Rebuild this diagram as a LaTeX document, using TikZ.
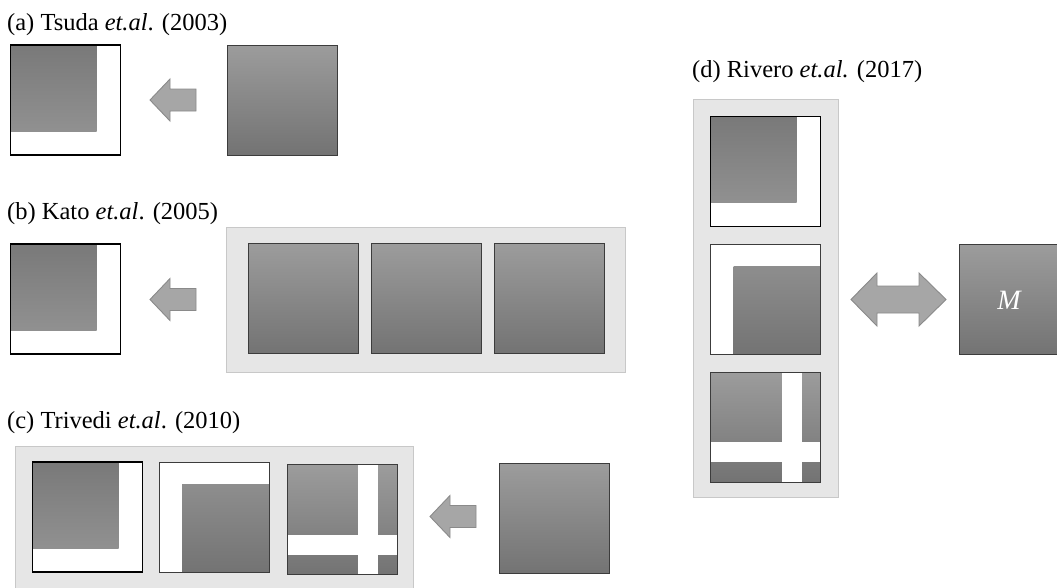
\documentclass[tikz,border=0pt]{standalone}
\usepackage{fontspec}
\setmainfont{Liberation Serif}
\definecolor{gtop}{HTML}{9C9C9C}
\definecolor{gbot}{HTML}{737373}
\definecolor{ltop}{HTML}{797979}
\definecolor{lbot}{HTML}{979797}
\definecolor{bord}{HTML}{3C3C3C}
\definecolor{panelfill}{HTML}{E6E6E6}
\definecolor{panelline}{HTML}{C8C8C8}
\definecolor{arrfill}{HTML}{A6A6A6}
\definecolor{arrline}{HTML}{8A8A8A}
\tikzset{
  sq/.style={rectangle, inner sep=0pt, minimum width=110pt, minimum height=110pt},
  gbox/.style={sq, draw=bord, line width=0.9pt, top color=gtop, bottom color=gbot},
  lbox/.style={sq, fill=white, draw=black, line width=1.6pt,
    path picture={\shade[top color=ltop, bottom color=lbot]
      (path picture bounding box.north west) rectangle ++(86,86);}},
  rbox/.style={sq, fill=white, draw=bord, line width=0.9pt,
    path picture={\shade[top color=gtop!95!black, bottom color=gbot]
      ([shift={(23,22)}]path picture bounding box.north west) rectangle (path picture bounding box.south east);}},
  xbox/.style={gbox,
    path picture={\fill[white] ([shift={(71,0)}]path picture bounding box.north west) rectangle ([shift={(91,0)}]path picture bounding box.south west);
      \fill[white] ([shift={(0,70)}]path picture bounding box.north west) rectangle ([shift={(0,90)}]path picture bounding box.north east);}},
  panel/.style={fill=panelfill, draw=panelline, line width=0.9pt},
  blockarrow/.style={fill=arrfill, draw=arrline, line width=0.9pt, line join=miter},
  ttl/.style={anchor=base west, inner sep=0pt, font=\fontsize{24.5}{29}\selectfont},
}
\newcommand\leftblock[2]{%
  \draw[blockarrow] (#1,#2) -- ++(20,-21) -- ++(0,10) -- ++(26,0) -- ++(0,22) -- ++(-26,0) -- ++(0,10) -- cycle;}
\begin{document}
\begin{tikzpicture}[x=1pt,y=-1pt]
\path[use as bounding box] (0,0) rectangle (1057,587);
\begin{scope}
\clip (0,0) rectangle (1057,587);
% (a)
\node[ttl] (ta) at (7,30) {(a) Tsuda \textit{et.al}. (2003)};
\node[lbox] (a1) at (65.5,100) {};
\node[gbox] (a2) at (282,100) {};
\coordinate (atip) at (150,100);
\leftblock{150}{100}
% (b)
\node[ttl] (tb) at (7,219.5) {(b) Kato \textit{et.al}. (2005)};
\node[lbox] (b1) at (65.5,299) {};
\draw[panel] (226,227) rectangle (625,372);
\node[gbox] (b2) at (303,298.5) {};
\node[gbox] (b3) at (426,298.5) {};
\node[gbox] (b4) at (549,298.5) {};
\leftblock{150}{299.5}
% (c)
\node[ttl] (tc) at (7,428) {(c) Trivedi \textit{et.al}. (2010)};
\draw[panel] (15,446) rectangle (413,600);
\node[lbox] (c1) at (87.5,517) {};
\node[rbox] (c2) at (214,517.5) {};
\node[xbox] (c3) at (342,519.5) {};
\node[gbox] (c4) at (554,518.5) {};
\leftblock{430}{516.5}
% (d)
\node[ttl] (td) at (692,77) {(d) Rivero \textit{et.al.} (2017)};
\draw[panel] (693,99) rectangle (838,497);
\node[lbox] (d1) at (765.5,171.5) {};
\node[rbox] (d2) at (765.5,299.5) {};
\node[xbox] (d3) at (765.5,427) {};
\node[gbox] (dm) at (1014,299.5) {};
\node[text=white, inner sep=0pt, font=\fontsize{28}{30}\selectfont\itshape] (mlab) at (1009,300) {M};
\draw[blockarrow] (851,299.5) -- (877,273) -- (877,286) -- (919,286) -- (919,273) -- (946,299.5)
  -- (919,326) -- (919,313) -- (877,313) -- (877,326) -- cycle;
\end{scope}
\end{tikzpicture}
\end{document}
